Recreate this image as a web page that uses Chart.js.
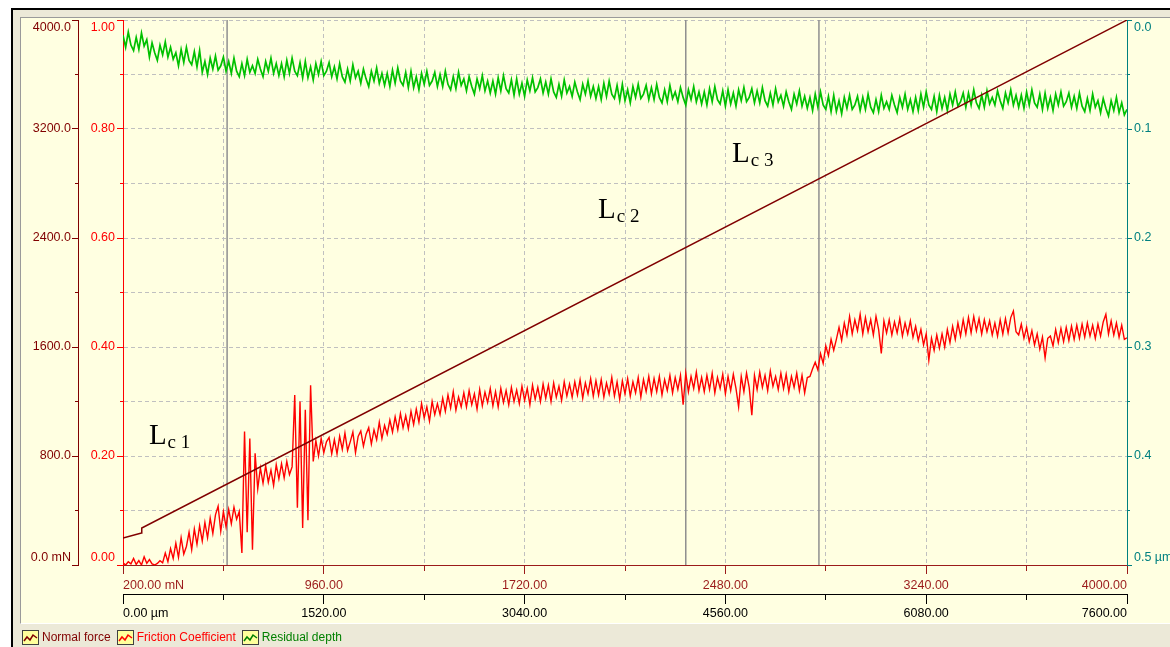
<!DOCTYPE html>
<html>
<head>
<meta charset="utf-8">
<title>Scratch test - Lc</title>
<script src="https://cdn.jsdelivr.net/npm/chart.js@4.4.0/dist/chart.umd.min.js"></script>
<style>
    html, body {
        margin: 0;
        padding: 0;
        background: #ffffff;
        width: 1170px;
        height: 647px;
        overflow: hidden;
        font-family: 'Liberation Sans', Arial, sans-serif;
    }
    #frame {
        position: absolute;
        left: 11px;
        top: 8px;
        width: 1170px;
        height: 660px;
        background: #ECE9D8;
        border-left: 2px solid #000;
        border-top: 2px solid #000;
    }
    #panel {
        position: absolute;
        left: 20px;
        top: 17px;
        width: 1160px;
        height: 605px;
        background: #FFFFE1;
        border-left: 1px solid #9a9a9a;
        border-top: 1px solid #9a9a9a;
        border-bottom: 1px solid #ffffff;
    }
    #chart {
        position: absolute;
        left: 0;
        top: 0;
    }
    #legend {
        position: absolute;
        left: 22px;
        top: 630px;
        font-size: 12px;
        white-space: nowrap;
    }
    #legend .item {
        display: inline-block;
        margin-right: 6px;
        line-height: 15px;
    }
    #legend svg {
        vertical-align: top;
        margin-right: 3px;
    }
</style>
</head>
<body>
<div id="frame"></div>
<div id="panel"></div>
<canvas id="chart" width="1170" height="647"></canvas>
<div id="legend"></div>

<script>
/**
 * Scratch test record: normal force, friction coefficient, residual depth
 * against applied load (mN) / scratch distance (um).
 */

// Friction and depth are sampled every 10 mN, from 200 mN to 4000 mN
const sampleStart = 200;
const sampleStep = 10;

// Friction coefficient (left red axis)
const frictionCoef = [
    0.004, 0.000, 0.006, 0.002, 0.012, 0.001, 0.008, 0.000, 0.015, 0.003,
    0.010, 0.002, 0.000, 0.003, 0.008, 0.004, 0.022, 0.006, 0.030, 0.012,
    0.040, 0.014, 0.050, 0.020, 0.034, 0.060, 0.028, 0.066, 0.038, 0.072,
    0.044, 0.078, 0.050, 0.086, 0.058, 0.092, 0.108, 0.062, 0.098, 0.070,
    0.102, 0.076, 0.106, 0.084, 0.098, 0.022, 0.245, 0.060, 0.232, 0.028,
    0.205, 0.140, 0.178, 0.150, 0.182, 0.152, 0.174, 0.146, 0.184, 0.158,
    0.186, 0.160, 0.190, 0.166, 0.180, 0.312, 0.105, 0.300, 0.068, 0.285,
    0.082, 0.330, 0.190, 0.228, 0.200, 0.232, 0.206, 0.226, 0.234, 0.204,
    0.230, 0.204, 0.236, 0.212, 0.242, 0.210, 0.226, 0.244, 0.206, 0.236,
    0.246, 0.218, 0.240, 0.252, 0.222, 0.248, 0.230, 0.262, 0.232, 0.256,
    0.240, 0.266, 0.244, 0.272, 0.248, 0.278, 0.252, 0.274, 0.250, 0.282,
    0.258, 0.286, 0.262, 0.296, 0.270, 0.290, 0.264, 0.300, 0.276, 0.296,
    0.276, 0.306, 0.282, 0.312, 0.288, 0.318, 0.284, 0.308, 0.290, 0.316,
    0.290, 0.320, 0.294, 0.314, 0.286, 0.322, 0.292, 0.317, 0.298, 0.324,
    0.292, 0.318, 0.290, 0.324, 0.298, 0.320, 0.294, 0.326, 0.300, 0.321,
    0.296, 0.328, 0.302, 0.324, 0.294, 0.330, 0.304, 0.326, 0.300, 0.332,
    0.306, 0.330, 0.300, 0.334, 0.308, 0.328, 0.302, 0.336, 0.310, 0.332,
    0.308, 0.336, 0.312, 0.340, 0.306, 0.334, 0.314, 0.342, 0.310, 0.338,
    0.312, 0.340, 0.308, 0.334, 0.314, 0.344, 0.310, 0.336, 0.304, 0.338,
    0.314, 0.342, 0.310, 0.336, 0.316, 0.344, 0.308, 0.340, 0.318, 0.346,
    0.314, 0.342, 0.318, 0.346, 0.312, 0.340, 0.320, 0.348, 0.316, 0.344,
    0.322, 0.348, 0.294, 0.352, 0.318, 0.346, 0.324, 0.354, 0.320, 0.344,
    0.318, 0.348, 0.322, 0.352, 0.316, 0.344, 0.324, 0.350, 0.314, 0.346,
    0.320, 0.350, 0.324, 0.290, 0.346, 0.318, 0.352, 0.326, 0.275, 0.348,
    0.322, 0.354, 0.326, 0.348, 0.320, 0.356, 0.328, 0.346, 0.322, 0.352,
    0.324, 0.350, 0.318, 0.346, 0.326, 0.352, 0.320, 0.348, 0.316, 0.344,
    0.346, 0.360, 0.372, 0.358, 0.388, 0.370, 0.402, 0.384, 0.414, 0.394,
    0.414, 0.436, 0.412, 0.444, 0.422, 0.456, 0.424, 0.450, 0.430, 0.460,
    0.424, 0.454, 0.428, 0.450, 0.422, 0.456, 0.432, 0.388, 0.448, 0.426,
    0.450, 0.422, 0.446, 0.426, 0.452, 0.420, 0.444, 0.424, 0.448, 0.418,
    0.438, 0.412, 0.432, 0.404, 0.424, 0.376, 0.416, 0.394, 0.422, 0.398,
    0.424, 0.400, 0.432, 0.408, 0.438, 0.414, 0.444, 0.420, 0.450, 0.424,
    0.454, 0.426, 0.456, 0.430, 0.452, 0.424, 0.450, 0.428, 0.448, 0.422,
    0.444, 0.420, 0.450, 0.424, 0.452, 0.426, 0.454, 0.466, 0.428, 0.422,
    0.442, 0.416, 0.436, 0.410, 0.430, 0.404, 0.424, 0.396, 0.418, 0.380,
    0.416, 0.420, 0.402, 0.432, 0.408, 0.434, 0.410, 0.436, 0.412, 0.438,
    0.414, 0.440, 0.416, 0.442, 0.418, 0.444, 0.420, 0.440, 0.416, 0.442,
    0.420, 0.446, 0.460, 0.424, 0.448, 0.422, 0.444, 0.418, 0.440, 0.414,
    0.417
];

// Residual depth, um (right teal axis, reversed)
const residualDepth = [
    0.014, 0.025, 0.011, 0.023, 0.028, 0.016, 0.027, 0.012, 0.024, 0.018,
    0.034, 0.021, 0.030, 0.037, 0.023, 0.032, 0.020, 0.034, 0.025, 0.036,
    0.030, 0.042, 0.027, 0.039, 0.025, 0.037, 0.041, 0.029, 0.043, 0.028,
    0.048, 0.038, 0.050, 0.035, 0.045, 0.033, 0.046, 0.042, 0.034, 0.047,
    0.038, 0.049, 0.035, 0.047, 0.052, 0.040, 0.051, 0.036, 0.048, 0.042,
    0.049, 0.036, 0.045, 0.052, 0.038, 0.047, 0.035, 0.049, 0.040, 0.051,
    0.040, 0.052, 0.037, 0.049, 0.035, 0.047, 0.051, 0.039, 0.053, 0.038,
    0.053, 0.043, 0.055, 0.040, 0.050, 0.038, 0.051, 0.047, 0.039, 0.052,
    0.043, 0.054, 0.040, 0.052, 0.057, 0.045, 0.056, 0.041, 0.053, 0.047,
    0.058, 0.045, 0.054, 0.061, 0.047, 0.056, 0.044, 0.058, 0.049, 0.060,
    0.049, 0.061, 0.046, 0.058, 0.044, 0.056, 0.060, 0.048, 0.062, 0.047,
    0.062, 0.052, 0.064, 0.049, 0.059, 0.047, 0.060, 0.056, 0.048, 0.061,
    0.050, 0.061, 0.047, 0.059, 0.064, 0.052, 0.063, 0.048, 0.060, 0.054,
    0.065, 0.052, 0.061, 0.068, 0.054, 0.063, 0.051, 0.065, 0.056, 0.067,
    0.056, 0.068, 0.053, 0.065, 0.051, 0.063, 0.067, 0.055, 0.069, 0.054,
    0.068, 0.058, 0.070, 0.055, 0.065, 0.053, 0.066, 0.062, 0.054, 0.067,
    0.057, 0.068, 0.054, 0.066, 0.071, 0.059, 0.070, 0.055, 0.067, 0.061,
    0.070, 0.057, 0.066, 0.073, 0.059, 0.068, 0.056, 0.070, 0.061, 0.072,
    0.061, 0.073, 0.058, 0.070, 0.056, 0.068, 0.072, 0.060, 0.074, 0.059,
    0.074, 0.064, 0.076, 0.061, 0.071, 0.059, 0.072, 0.068, 0.060, 0.073,
    0.062, 0.073, 0.059, 0.071, 0.076, 0.064, 0.075, 0.060, 0.072, 0.066,
    0.075, 0.062, 0.071, 0.078, 0.064, 0.073, 0.061, 0.075, 0.066, 0.077,
    0.066, 0.078, 0.063, 0.075, 0.061, 0.073, 0.077, 0.065, 0.079, 0.064,
    0.077, 0.067, 0.079, 0.064, 0.074, 0.062, 0.075, 0.071, 0.063, 0.076,
    0.065, 0.076, 0.062, 0.074, 0.079, 0.067, 0.078, 0.063, 0.075, 0.069,
    0.079, 0.066, 0.075, 0.082, 0.068, 0.077, 0.065, 0.079, 0.070, 0.081,
    0.071, 0.083, 0.068, 0.080, 0.066, 0.078, 0.082, 0.070, 0.084, 0.069,
    0.084, 0.074, 0.086, 0.071, 0.081, 0.069, 0.082, 0.078, 0.070, 0.083,
    0.071, 0.082, 0.068, 0.080, 0.085, 0.073, 0.084, 0.069, 0.081, 0.075,
    0.082, 0.069, 0.078, 0.085, 0.071, 0.080, 0.068, 0.082, 0.073, 0.084,
    0.071, 0.083, 0.068, 0.080, 0.066, 0.078, 0.082, 0.070, 0.084, 0.069,
    0.081, 0.071, 0.083, 0.068, 0.078, 0.066, 0.079, 0.075, 0.067, 0.080,
    0.067, 0.078, 0.064, 0.076, 0.081, 0.069, 0.080, 0.065, 0.077, 0.071,
    0.078, 0.065, 0.074, 0.081, 0.067, 0.076, 0.064, 0.078, 0.069, 0.080,
    0.069, 0.081, 0.066, 0.078, 0.064, 0.076, 0.080, 0.068, 0.082, 0.067,
    0.081, 0.071, 0.083, 0.068, 0.078, 0.066, 0.079, 0.075, 0.067, 0.080,
    0.070, 0.081, 0.067, 0.079, 0.084, 0.072, 0.083, 0.068, 0.080, 0.074,
    0.085, 0.072, 0.081, 0.088, 0.074, 0.083, 0.071, 0.085, 0.076, 0.087,
    0.082
];

// Normal force (left dark-red axis, mN) vs load
const forceLoad = [200, 270, 271, 4000];
const normalForce = [198, 235, 271, 4000];

// Critical loads Lc1..Lc3 (mN) and where their labels sit
const lcLoads = [594, 2330, 2834];
const lcNames = ['1', '2', '3'];
const lcTextLoad = [298, 1998, 2505];
const lcTextMu = [0.222, 0.637, 0.739];

// Axis ranges
const loadRange = [200, 4000];
const distanceRange = [0, 7600];
const forceRange = [0, 4000];
const muRange = [0, 1];
const depthRange = [0, 0.5];

const gridColor = '#c0c0c0';
const colors = {
    force: '#800000',
    loadAxis: '#9b1b1b',
    friction: '#ff0000',
    depth: '#00c000',
    depthAxis: '#008080',
    lc: '#8f8f8f'
};

/**
 * Build {x, y} points from the sample grid
 */
function sampled(values) {
    return values.map((v, i) => ({ x: sampleStart + i * sampleStep, y: v }));
}

/**
 * Labels only on every second tick; the top label sits below its tick,
 * the bottom one above it (tick index 0 is always the bottom one here)
 */
function verticalLabel(text, index, count) {
    if (index % 2 !== 0) return '';
    if (index === count - 1) return ['', text];
    if (index === 0) return [text, ''];
    return text;
}

// minor ticks are drawn short with a dash pattern
const minorLeft = (ctx) => ctx.index % 2 ? [0, 3, 3, 20] : [];
const minorRight = (ctx) => ctx.index % 2 ? [2, 20] : [];
const minorBottom = (ctx) => ctx.index % 2 ? [5, 20] : [];

const lcLabelPlugin = {
    id: 'lcLabels',
    afterDatasetsDraw(chart) {
        const { ctx, scales } = chart;
        ctx.save();
        ctx.fillStyle = '#000';
        ctx.textBaseline = 'alphabetic';
        ctx.textAlign = 'left';
        lcNames.forEach((name, i) => {
            const x = scales.x.getPixelForValue(lcTextLoad[i]);
            const y = scales.yMu.getPixelForValue(lcTextMu[i]);
            ctx.font = '29px "Liberation Serif", "Times New Roman", serif';
            ctx.fillText('L', x, y);
            const w = ctx.measureText('L').width;
            ctx.font = '19px "Liberation Serif", "Times New Roman", serif';
            ctx.fillText('c ' + name, x + w + 1, y + 4);
        });
        ctx.restore();
    }
};

Chart.defaults.font.family = "'Liberation Sans', Arial, sans-serif";
Chart.defaults.font.size = 12.5;

const datasets = [
    {
        label: 'Normal force',
        data: forceLoad.map((l, i) => ({ x: l, y: normalForce[i] })),
        yAxisID: 'yF',
        borderColor: colors.force,
        borderWidth: 1.5
    },
    {
        label: 'Friction Coefficient',
        data: sampled(frictionCoef),
        yAxisID: 'yMu',
        borderColor: colors.friction,
        borderWidth: 1.4
    },
    {
        label: 'Residual depth',
        data: sampled(residualDepth),
        yAxisID: 'yD',
        borderColor: colors.depth,
        borderWidth: 1.7
    }
];

lcLoads.forEach((l, i) => {
    datasets.push({
        label: 'Lc' + lcNames[i],
        data: [{ x: l, y: muRange[0] }, { x: l, y: muRange[1] }],
        yAxisID: 'yMu',
        borderColor: colors.lc,
        borderWidth: 1.5
    });
});

new Chart(document.getElementById('chart'), {
    type: 'line',
    data: { datasets: datasets },
    options: {
        responsive: false,
        animation: false,
        devicePixelRatio: 1,
        parsing: false,
        normalized: true,
        layout: { padding: { left: 21, right: 0, top: 20, bottom: 25 } },
        elements: {
            point: { radius: 0, hoverRadius: 0 },
            line: { tension: 0, fill: false }
        },
        plugins: {
            legend: { display: false },
            tooltip: { enabled: false }
        },
        scales: {
            x: {
                type: 'linear',
                position: 'bottom',
                weight: 0,
                min: loadRange[0],
                max: loadRange[1],
                afterFit: (s) => { s.height = 29; },
                ticks: {
                    stepSize: 380,
                    autoSkip: false,
                    maxRotation: 0,
                    align: 'inner',
                    padding: 4,
                    color: colors.loadAxis,
                    callback: (v, i) => i % 2 ? '' : (i === 0 ? v.toFixed(2) + ' mN' : v.toFixed(2))
                },
                grid: {
                    color: gridColor,
                    tickColor: colors.loadAxis,
                    tickLength: 9,
                    tickWidth: 1,
                    tickBorderDash: minorBottom
                },
                border: { color: colors.loadAxis, width: 1, dash: [4, 3] }
            },
            x2: {
                type: 'linear',
                position: 'bottom',
                weight: 1,
                min: distanceRange[0],
                max: distanceRange[1],
                afterFit: (s) => { s.height = 28; },
                ticks: {
                    stepSize: 760,
                    autoSkip: false,
                    maxRotation: 0,
                    align: 'inner',
                    padding: 2,
                    color: '#000',
                    callback: (v, i) => i % 2 ? '' : (i === 0 ? v.toFixed(2) + ' \u00b5m' : v.toFixed(2))
                },
                grid: {
                    drawOnChartArea: false,
                    color: '#000',
                    tickLength: 10,
                    tickWidth: 1,
                    tickBorderDash: minorBottom
                },
                border: { color: '#000', width: 1 }
            },
            yMu: {
                type: 'linear',
                position: 'left',
                weight: 0,
                min: muRange[0],
                max: muRange[1],
                afterFit: (s) => { s.width = 45; },
                ticks: {
                    stepSize: 0.1,
                    autoSkip: false,
                    padding: 2,
                    color: colors.friction,
                    callback: (v, i, t) => verticalLabel(v.toFixed(2), i, t.length)
                },
                grid: {
                    color: gridColor,
                    tickColor: colors.friction,
                    tickLength: 6,
                    tickWidth: 1,
                    tickBorderDash: minorLeft
                },
                border: { color: colors.friction, width: 1, dash: [4, 3] }
            },
            yF: {
                type: 'linear',
                position: 'left',
                weight: 1,
                min: forceRange[0],
                max: forceRange[1],
                afterFit: (s) => { s.width = 57; },
                ticks: {
                    stepSize: 400,
                    autoSkip: false,
                    padding: 1,
                    color: colors.force,
                    callback: (v, i, t) => verticalLabel(i === 0 ? v.toFixed(1) + ' mN' : v.toFixed(1), i, t.length)
                },
                grid: {
                    drawOnChartArea: false,
                    color: colors.force,
                    tickLength: 6,
                    tickWidth: 1,
                    tickBorderDash: minorLeft
                },
                border: { color: colors.force, width: 1 }
            },
            yD: {
                type: 'linear',
                position: 'right',
                reverse: true,
                min: depthRange[0],
                max: depthRange[1],
                afterFit: (s) => { s.width = 43; },
                ticks: {
                    stepSize: 0.05,
                    autoSkip: false,
                    padding: 2,
                    color: colors.depthAxis,
                    callback: (v, i, t) => verticalLabel(i === 0 ? v.toFixed(1) + ' \u00b5m' : v.toFixed(1), i, t.length)
                },
                grid: {
                    drawOnChartArea: false,
                    color: colors.depthAxis,
                    tickLength: 5,
                    tickWidth: 1,
                    tickBorderDash: minorRight
                },
                border: { color: colors.depthAxis, width: 1 }
            }
        }
    },
    plugins: [lcLabelPlugin]
});

// Legend strip under the plot panel
const legendItems = [
    { text: 'Normal force', color: colors.force },
    { text: 'Friction Coefficient', color: colors.friction },
    { text: 'Residual depth', color: '#008000' }
];
const legendEl = document.getElementById('legend');
legendItems.forEach((item) => {
    const span = document.createElement('span');
    span.className = 'item';
    span.innerHTML =
        '<svg width="17" height="15" viewBox="0 0 17 15">' +
        '<rect x="0.5" y="0.5" width="16" height="14" fill="#ffff9c" stroke="#404040"/>' +
        '<polyline points="2,11 5,7 8,10 11,5 15,8" fill="none" stroke="' + item.color + '" stroke-width="1.5"/>' +
        '</svg><span style="color:' + item.color + '">' + item.text + '</span>';
    legendEl.appendChild(span);
});
</script>
</body>
</html>
